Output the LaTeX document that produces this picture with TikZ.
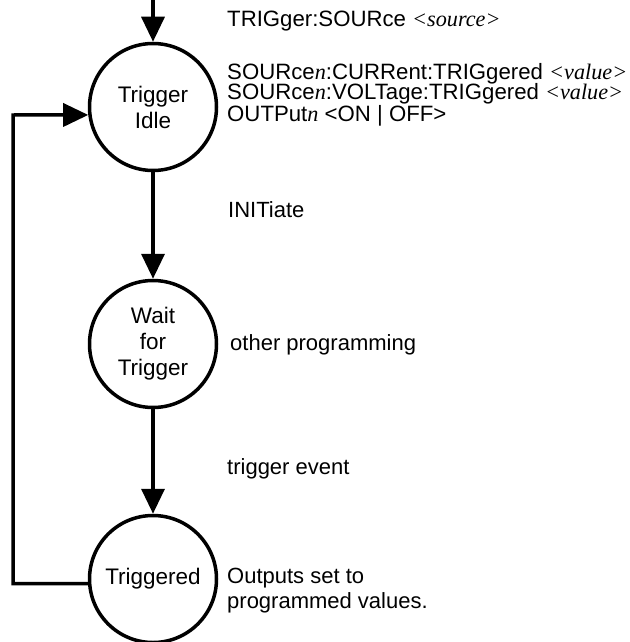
\documentclass[tikz,border=0pt]{standalone}
\usepackage{fontspec}
\setmainfont{Liberation Sans}
\newfontfamily\tnr{Liberation Serif}
\usetikzlibrary{arrows.meta}
\newcommand{\vi}[1]{{\tnr\itshape #1}}
\begin{document}
\begin{tikzpicture}[x=1pt,y=-1pt,
  state/.style={circle, draw, line width=3.5pt, minimum size=127pt, inner sep=0pt, align=center,
    font=\fontsize{22.5}{26}\selectfont},
  conn/.style={line width=3.5pt, -{Triangle[length=25pt,width=23pt]}},
  lbl/.style={anchor=base west, inner sep=0pt, align=left, font=\fontsize{22.2}{21}\selectfont},
  lblb/.style={anchor=base west, inner sep=0pt, align=left, font=\fontsize{22}{25}\selectfont}]
\useasboundingbox (0,0) rectangle (629,642);
\node[state] (idle) at (153,107) {Trigger\\Idle};
\node[state] (wait) at (153,344) {Wait\\for\\Trigger};
\node[state] (trig) at (153,579) {Triggered};
\coordinate (top) at (153,0);
\coordinate (fbc) at (13,115);
\draw[conn] (top) -- (idle);
\draw[conn] (idle) -- (wait);
\draw[conn] (wait) -- (trig);
\draw[conn] (trig.184) -| (fbc) -- (idle.187);
\node[lbl] (src) at (227,27) {TRIGger:SOURce \vi{<source>}};
\node[lbl] (prog) at (227,121) {SOURce\vi{n}:CURRent:TRIGgered \vi{<value>}\\
SOURce\vi{n}:VOLTage:TRIGgered \vi{<value>}\\
OUTPut\vi{n} <ON | OFF>};
\node[lblb] (init) at (228,217) {INITiate};
\node[lblb] (other) at (230,350) {other programming};
\node[lblb] (event) at (227,474) {trigger event};
\node[lblb] (outs) at (227,608) {Outputs set to\\programmed values.};
\end{tikzpicture}
\end{document}
